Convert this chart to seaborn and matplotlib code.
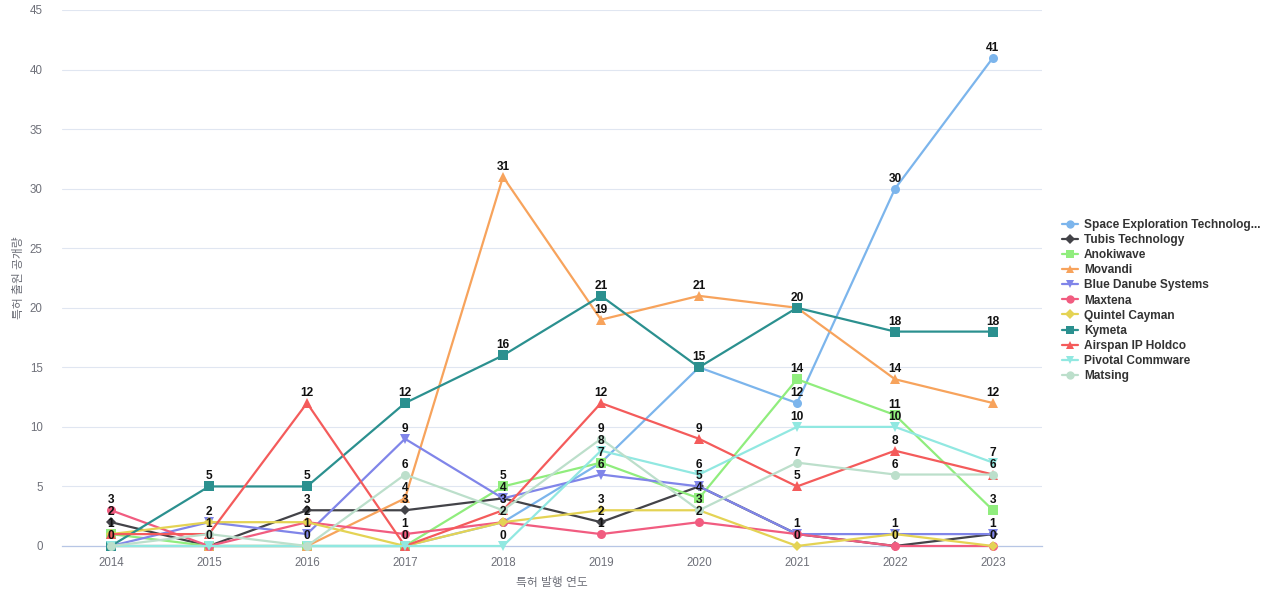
import matplotlib
matplotlib.use("Agg")
import matplotlib.pyplot as plt
import seaborn as sns
import pandas as pd
from matplotlib.lines import Line2D

years = ["2014", "2015", "2016", "2017", "2018", "2019", "2020", "2021", "2022", "2023"]
companies = ["Space Exploration Technolog...", "Tubis Technology", "Anokiwave", "Movandi",
             "Blue Danube Systems", "Maxtena", "Quintel Cayman", "Kymeta",
             "Airspan IP Holdco", "Pivotal Commware", "Matsing"]

space_x     = [0, 0, 0, 0, 2, 7, 15, 12, 30, 41]
tubis       = [2, 0, 3, 3, 4, 2, 5, 1, 0, 1]
anokiwave   = [1, 0, 0, 0, 5, 7, 4, 14, 11, 3]
movandi     = [0, 0, 0, 4, 31, 19, 21, 20, 14, 12]
blue_danube = [0, 2, 1, 9, 4, 6, 5, 1, 1, 1]
maxtena     = [3, 0, 2, 1, 2, 1, 2, 1, 0, 0]
quintel     = [1, 2, 2, 0, 2, 3, 3, 0, 1, 0]
kymeta      = [0, 5, 5, 12, 16, 21, 15, 20, 18, 18]
airspan     = [1, 1, 12, 0, 3, 12, 9, 5, 8, 6]
pivotal     = [0, 0, 0, 0, 0, 8, 6, 10, 10, 7]
matsing     = [0, 1, 0, 6, 3, 9, 3, 7, 6, 6]

series = [space_x, tubis, anokiwave, movandi, blue_danube, maxtena,
          quintel, kymeta, airspan, pivotal, matsing]

colors = ["#7cb5ec", "#434348", "#90ed7d", "#f7a35c", "#8085e9", "#f15c80",
          "#e4d354", "#2b908f", "#f45b5b", "#91e8e1", "#bcdfcb"]
markers = ["o", "D", "s", "^", "v", "o", "D", "s", "^", "v", "o"]

rows = []
for name, vals in zip(companies, series):
    for i, (yr, v) in enumerate(zip(years, vals)):
        rows.append({"company": name, "pos": i, "year": yr, "value": v})
df = pd.DataFrame(rows)

sns.set_theme(style="white")
plt.rcParams["font.family"] = ["Liberation Sans", "Noto Sans CJK KR"]

fig = plt.figure(figsize=(12.8, 6.0), dpi=100)
ax = fig.add_axes([62 / 1280, (600 - 546) / 600, (1042 - 62) / 1280, 536 / 600])

palette = dict(zip(companies, colors))
mk = dict(zip(companies, markers))
sns.lineplot(data=df, x="pos", y="value", hue="company", style="company",
             hue_order=companies, style_order=companies, palette=palette,
             markers=mk, dashes=False, linewidth=1.6, markersize=6.5,
             markeredgewidth=0, ax=ax, legend=False, clip_on=False, zorder=3)
for ln in ax.lines:
    ln.set_clip_on(False)
    if ln.get_marker() == "D":
        ln.set_markersize(4.8)

ax.set_xlim(-0.5, len(years) - 0.5)
ax.set_ylim(0, 45)
ax.set_yticks(range(0, 46, 5))
ax.set_xticks(range(len(years)))
ax.set_xticklabels(years)
ax.tick_params(axis="both", length=0, labelsize=8.3, labelcolor="#6e7079")
ax.tick_params(axis="x", pad=8)
ax.tick_params(axis="y", pad=14)
ax.grid(axis="y", color="#e0e6f1", linewidth=0.8)
ax.grid(axis="x", visible=False)
for s in ["top", "right", "left"]:
    ax.spines[s].set_visible(False)
ax.spines["bottom"].set_color("#b7c6e5")
ax.spines["bottom"].set_linewidth(0.9)
ax.spines["bottom"].set_zorder(1)

ax.set_xlabel("특허 발행 연도", fontsize=8.5, color="#6e7079", labelpad=6)
ax.set_ylabel("특허 출원 공개량", fontsize=8.5, color="#6e7079", labelpad=3)

# value labels: one per distinct value per year
for i in range(len(years)):
    seen = set()
    for vals in series:
        v = vals[i]
        if v in seen:
            continue
        seen.add(v)
        ax.annotate(str(v), (i, v), xytext=(0, 10), textcoords="offset pixels",
                    ha="center", va="center", fontsize=8.6, fontweight="bold",
                    color="#111111", zorder=5, annotation_clip=False)

handles = [Line2D([0], [0], color=c, marker=m, linewidth=1.6,
                  markersize=(4.8 if m == "D" else 6.0), markeredgewidth=0)
           for c, m in zip(colors, markers)]
leg = fig.legend(handles, companies, loc="upper left",
                 bbox_to_anchor=(1056 / 1280, 1 - 213 / 600), frameon=False,
                 prop={"size": 8.6, "weight": "bold"}, labelspacing=0.26,
                 handlelength=1.3, handletextpad=0.55, borderpad=0)
for t in leg.get_texts():
    t.set_color("#333333")

fig.savefig("out.png", dpi=100)
